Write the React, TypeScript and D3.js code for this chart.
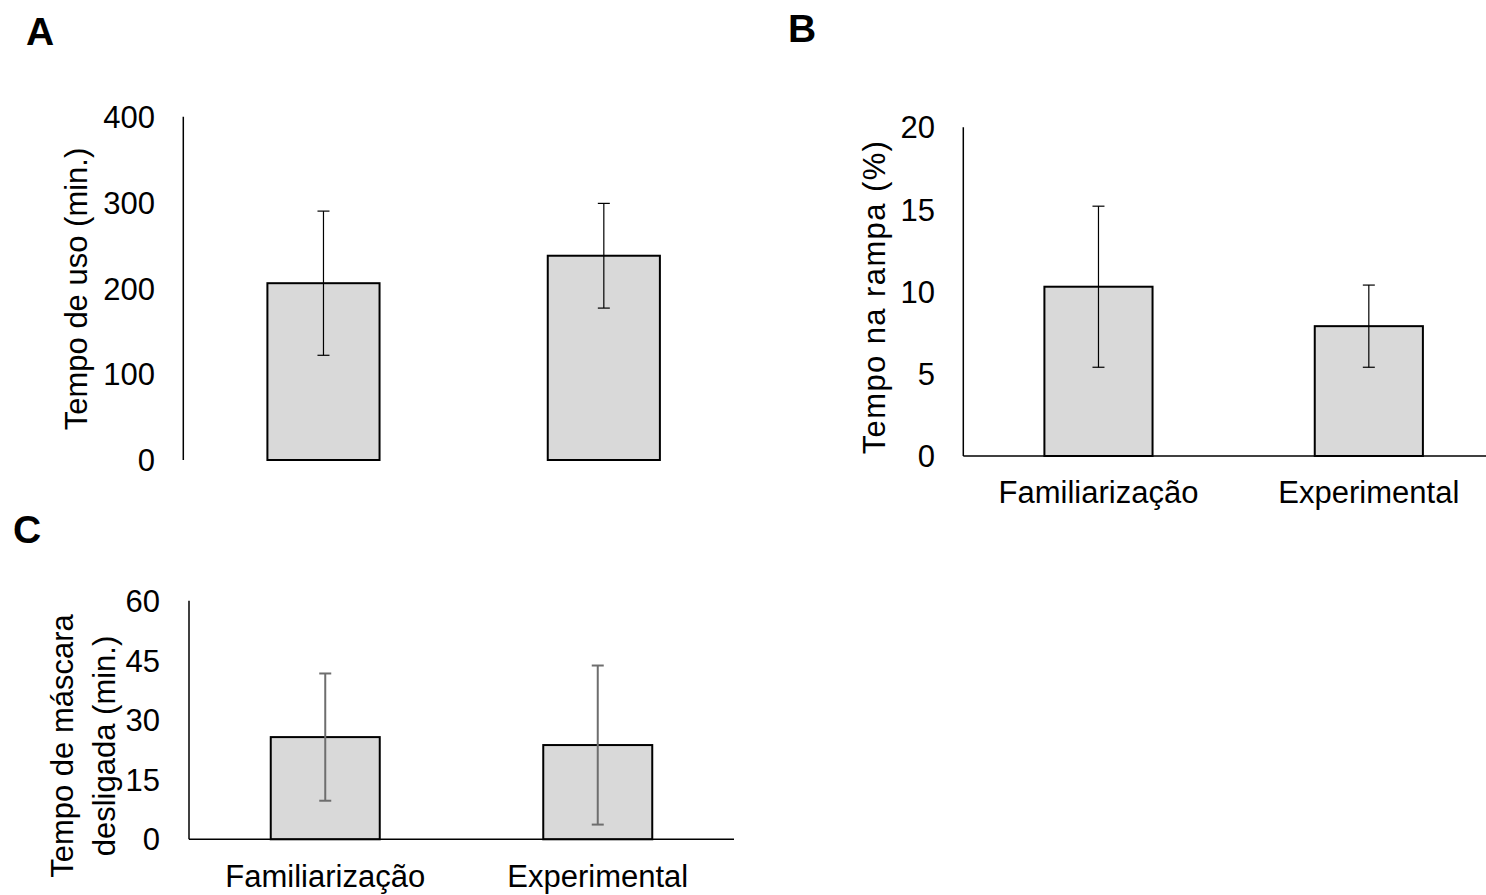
import React from "react";
import * as d3 from "d3";

const categories = ["Familiarização", "Experimental"];

const meansA = [206, 238];
const errA = [84, 61];
const ticksA = [0, 100, 200, 300, 400];

const meansB = [10.3, 7.9];
const errB = [4.9, 2.5];
const ticksB = [0, 5, 10, 15, 20];

const meansC = [25.7, 23.7];
const errC = [16, 20];
const ticksC = [0, 15, 30, 45, 60];

const FONT = "'Liberation Sans', Arial, Helvetica, sans-serif";

type PanelProps = {
  means: number[];
  errs: number[];
  ticks: number[];
  x0: number;
  x1: number;
  yTop: number;
  yBottom: number;
  tickRight: number;
  showXAxis: boolean;
  xLabelBaseline?: number;
  errColor: string;
  errWidth: number;
  titleLines: string[];
  titleBaselines: number[];
  titleCenterY: number;
  titleLetterSpacing?: number;
};

function Panel(p: PanelProps) {
  const x = d3
    .scaleBand<string>()
    .domain(categories)
    .range([p.x0, p.x1])
    .paddingInner(0.6)
    .paddingOuter(0.3);
  const y = d3
    .scaleLinear()
    .domain([p.ticks[0], p.ticks[p.ticks.length - 1]])
    .range([p.yBottom, p.yTop]);
  const bw = x.bandwidth();
  const cap = 6;
  return (
    <g>
      {categories.map((c, i) => (
        <rect
          key={"bar" + i}
          x={x(c)!}
          y={y(p.means[i])}
          width={bw}
          height={y(0) - y(p.means[i])}
          fill="#d9d9d9"
          stroke="#000"
          strokeWidth={2}
        />
      ))}
      {categories.map((c, i) => {
        const cx = x(c)! + bw / 2;
        const hi = y(p.means[i] + p.errs[i]);
        const lo = y(p.means[i] - p.errs[i]);
        return (
          <g key={"err" + i} stroke={p.errColor} strokeWidth={p.errWidth}>
            <line x1={cx} x2={cx} y1={hi} y2={lo} />
            <line x1={cx - cap} x2={cx + cap} y1={hi} y2={hi} />
            <line x1={cx - cap} x2={cx + cap} y1={lo} y2={lo} />
          </g>
        );
      })}
      <line x1={p.x0} x2={p.x0} y1={p.yTop} y2={p.yBottom} stroke="#000" strokeWidth={1.5} />
      {p.showXAxis && (
        <line x1={p.x0} x2={p.x1} y1={p.yBottom} y2={p.yBottom} stroke="#000" strokeWidth={1.5} />
      )}
      {p.ticks.map((t) => (
        <text
          key={"t" + t}
          x={p.tickRight}
          y={y(t)}
          dy="0.36em"
          textAnchor="end"
          fontSize={31}
          fontFamily={FONT}
          fill="#000"
        >
          {t}
        </text>
      ))}
      {p.showXAxis &&
        categories.map((c) => (
          <text
            key={"xl" + c}
            x={x(c)! + bw / 2}
            y={p.xLabelBaseline}
            textAnchor="middle"
            fontSize={31}
            fontFamily={FONT}
            fill="#000"
          >
            {c}
          </text>
        ))}
      {p.titleLines.map((line, i) => (
        <text
          key={"yt" + i}
          transform={`translate(${p.titleBaselines[i]},${p.titleCenterY}) rotate(-90)`}
          textAnchor="middle"
          fontSize={31}
          fontFamily={FONT}
          letterSpacing={p.titleLetterSpacing ?? 0}
          fill="#000"
        >
          {line}
        </text>
      ))}
    </g>
  );
}

export default function App() {
  return (
    <svg
      width={1486}
      height={895}
      style={{ position: "absolute", left: 0, top: 0, background: "#fff" }}
    >
      <rect x={0} y={0} width={1486} height={895} fill="#fff" />
      <text x={26} y={45} fontSize={39} fontWeight="bold" fontFamily={FONT}>A</text>
      <text x={788} y={42} fontSize={39} fontWeight="bold" fontFamily={FONT}>B</text>
      <text x={13} y={543} fontSize={39} fontWeight="bold" fontFamily={FONT}>C</text>

      <Panel
        means={meansA}
        errs={errA}
        ticks={ticksA}
        x0={183.3}
        x1={744}
        yTop={116.7}
        yBottom={460}
        tickRight={155}
        showXAxis={false}
        errColor="#000"
        errWidth={1.2}
        titleLines={["Tempo de uso (min.)"]}
        titleBaselines={[87]}
        titleCenterY={289}
      />
      <Panel
        means={meansB}
        errs={errB}
        ticks={ticksB}
        x0={963.3}
        x1={1504}
        yTop={127.3}
        yBottom={456}
        tickRight={935}
        showXAxis={true}
        xLabelBaseline={503}
        errColor="#000"
        errWidth={1.2}
        titleLines={["Tempo na rampa (%)"]}
        titleBaselines={[885]}
        titleCenterY={297}
        titleLetterSpacing={1.4}
      />
      <Panel
        means={meansC}
        errs={errC}
        ticks={ticksC}
        x0={189}
        x1={734}
        yTop={600.7}
        yBottom={839.3}
        tickRight={160}
        showXAxis={true}
        xLabelBaseline={887}
        errColor="#6e6e6e"
        errWidth={2}
        titleLines={["Tempo de máscara", "desligada (min.)"]}
        titleBaselines={[73, 115]}
        titleCenterY={746}
      />
    </svg>
  );
}
